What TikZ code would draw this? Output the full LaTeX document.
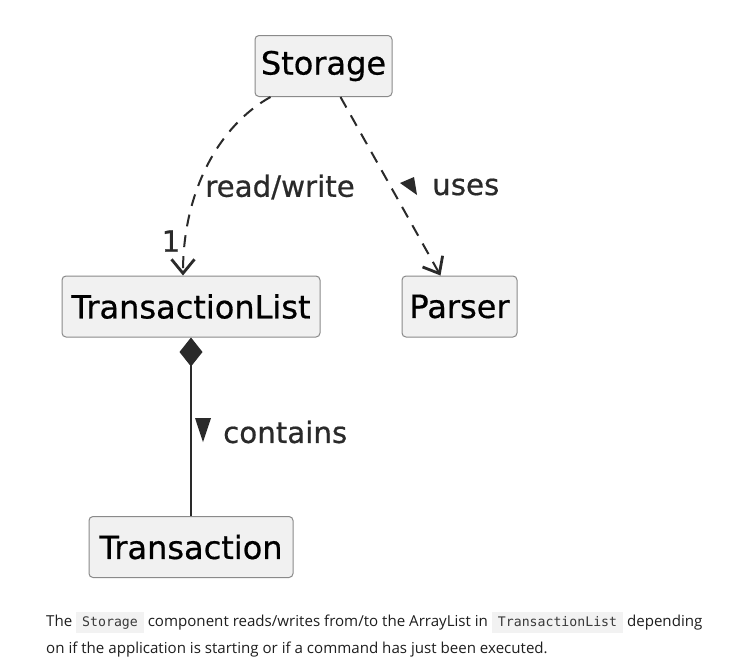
\documentclass[tikz,border=0pt]{standalone}
\usepackage{fontspec}
\setmainfont{DejaVu Sans}[FakeBold=0.6]
\newfontfamily\capfont{Open Sans}
\newfontfamily\codefont{DejaVu Sans Mono}
\usetikzlibrary{arrows.meta,calc}
\definecolor{boxfill}{HTML}{F1F1F1}
\definecolor{boxline}{HTML}{8A8A8A}
\definecolor{edgec}{HTML}{2A2A2A}
\definecolor{codebg}{HTML}{F2F2F2}
\definecolor{captxt}{HTML}{1E1E1E}
\definecolor{codetxt}{HTML}{3A3A3A}
\newcommand\codebx[1]{{\setlength{\fboxsep}{0pt}\colorbox{codebg}{\vrule width0pt height15pt depth6pt\hspace{6pt}\color{codetxt}\codefont\fontsize{13.2}{15}\selectfont #1\hspace{6pt}}}}
\begin{document}
\begin{tikzpicture}[x=1pt,y=-1pt,
  cls/.style={draw=boxline, fill=boxfill, rounded corners=4pt, line width=1pt, inner sep=0pt,
    minimum height=61pt, font=\fontsize{32}{38}\selectfont, text=black},
  lbl/.style={font=\fontsize{29.3}{33}\selectfont, inner sep=0pt, text=edgec},
  dep/.style={draw=edgec, line width=2pt, dash pattern=on 12pt off 9pt,
    -{Straight Barb[length=14pt,width=23pt,line width=2.8pt]}},
  comp/.style={draw=edgec, line width=2pt, {Diamond[length=29pt,width=23pt]}-},
  captext/.style={anchor=west, inner sep=0pt, text=captxt, font=\capfont\fontsize{15.1}{18}\selectfont}]
\fill[white] (0,0) rectangle (755,667);
\useasboundingbox (0,0) rectangle (755,667);

\node[cls, minimum width=137pt] (st) at (323.5,66) {Storage};
\node[cls, minimum width=258pt] (tl) at (191,306.5) {TransactionList};
\node[cls, minimum width=115pt] (ps) at (459.5,306.5) {Parser};
\node[cls, minimum width=204pt] (tr) at (191,547) {Transaction};

\draw[dep] ([xshift=-53pt]st.south) .. controls (220,125) and (183,190) .. ([xshift=-8pt]tl.north);
\draw[dep] ([xshift=17pt]st.south) -- ([xshift=-19pt]ps.north);
\draw[comp] (tl.south) -- (tr.north);

\node[lbl] (rw) at (280,187) {read/write};
\node[lbl] (one) at (171,241) {1};
\fill[edgec] (400,183) -- (414,177) -- (417,195) -- cycle;
\node[lbl, anchor=west] (us) at (432,187) {uses};
\fill[edgec] (195,418) -- (211,418) -- (203,442) -- cycle;
\node[lbl, anchor=west] (ct) at (223,432) {contains};

\node[captext] (c1) at (46,622) {The \codebx{Storage} component reads/writes from/to the ArrayList in \codebx{TransactionList} depending};
\node[captext] (c2) at (46,650) {on if the application is starting or if a command has just been executed.};
\end{tikzpicture}
\end{document}
